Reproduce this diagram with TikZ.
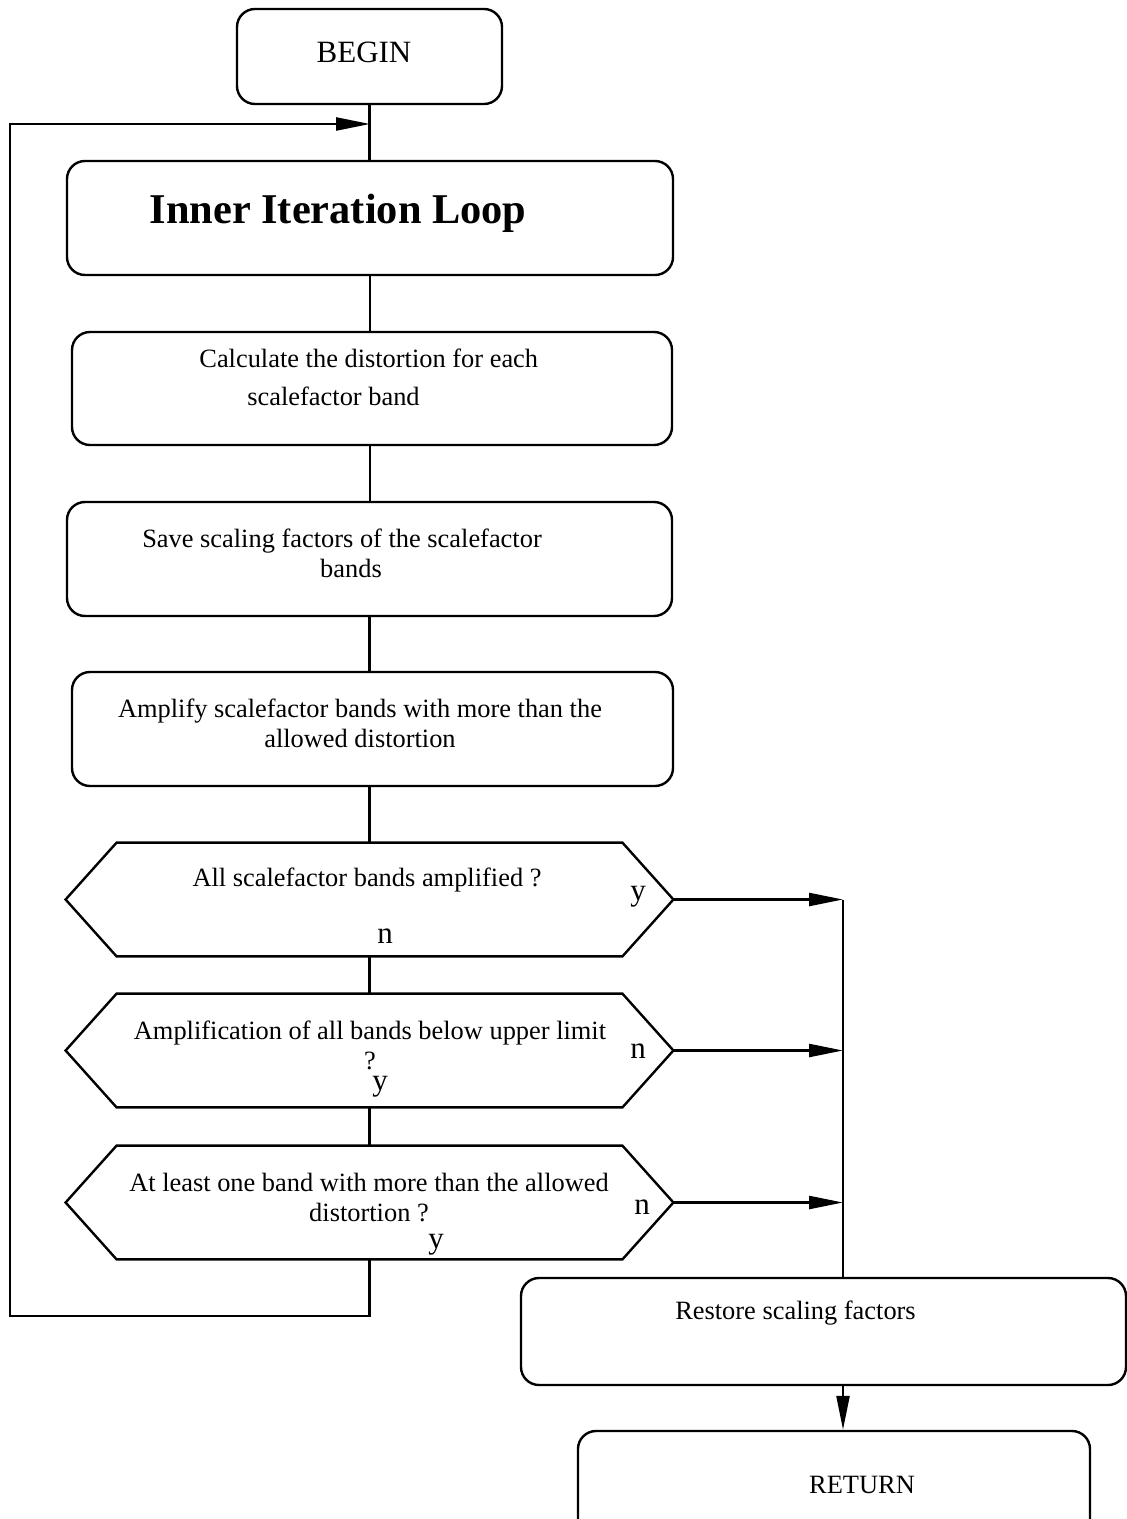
\documentclass[tikz,border=0pt]{standalone}
\usepackage{fontspec}
\setmainfont{Liberation Serif}
\usetikzlibrary{arrows.meta}

\tikzset{
  procbox/.style={draw, line width=1.2pt, rounded corners=9pt, inner sep=0pt},
  hexframe/.style={inner sep=0pt},
  hexline/.style={line width=1.2pt, line join=miter},
  txt/.style={font=\fontsize{13.2}{15}\selectfont, inner sep=0pt, align=center},
  yn/.style={font=\fontsize{15.5}{17}\selectfont, inner sep=0pt},
  flow/.style={line width=1.1pt},
  flowarr/.style={line width=1.2pt, -{Triangle[length=17pt,width=6.5pt]}}
}

\begin{document}
\begin{tikzpicture}[x=0.5pt,y=-0.5pt]
		\useasboundingbox (0,0) rectangle (1127,1519);

		%boxes
		\node[procbox, minimum width=132.5pt, minimum height=47.5pt] (begin) at (369.5,56.5) {};
		\node[procbox, minimum width=303pt, minimum height=57pt] (inner) at (370,218) {};
		\node[procbox, minimum width=300pt, minimum height=56.5pt] (calc) at (372,388.5) {};
		\node[procbox, minimum width=302.5pt, minimum height=57pt] (save) at (369.5,559) {};
		\node[procbox, minimum width=300.5pt, minimum height=57pt] (amp) at (372.5,729) {};
		\node[procbox, minimum width=302.5pt, minimum height=53.5pt] (restore) at (823.5,1331.5) {};
		\node[procbox, minimum width=256pt, minimum height=57pt] (return) at (834,1488) {};

		%decisions
		\node[hexframe, minimum width=303.5pt, minimum height=56.5pt] (hexa) at (369.5,899.5) {};
		\node[hexframe, minimum width=303.5pt, minimum height=56.5pt] (hexb) at (369.5,1050.5) {};
		\node[hexframe, minimum width=303.5pt, minimum height=56.5pt] (hexc) at (369.5,1202.5) {};
		\draw[hexline] (hexa.west) -- ([xshift=25.5pt]hexa.north west) -- ([xshift=-25.5pt]hexa.north east) -- (hexa.east)
			-- ([xshift=-25.5pt]hexa.south east) -- ([xshift=25.5pt]hexa.south west) -- cycle;
		\draw[hexline] (hexb.west) -- ([xshift=25.5pt]hexb.north west) -- ([xshift=-25.5pt]hexb.north east) -- (hexb.east)
			-- ([xshift=-25.5pt]hexb.south east) -- ([xshift=25.5pt]hexb.south west) -- cycle;
		\draw[hexline] (hexc.west) -- ([xshift=25.5pt]hexc.north west) -- ([xshift=-25.5pt]hexc.north east) -- (hexc.east)
			-- ([xshift=-25.5pt]hexc.south east) -- ([xshift=25.5pt]hexc.south west) -- cycle;

		%texts
		\node[txt, font=\fontsize{15.5}{17}\selectfont] (begintxt) at (364,52) {BEGIN};
		\node[txt, font=\fontsize{21.2}{24}\selectfont\bfseries] (innertxt) at (338,213) {Inner Iteration Loop};
		\node[txt, align=left, anchor=west, font=\fontsize{13.2}{19}\selectfont] (calctxt) at (199,377) {Calculate the distortion for each\\\hspace*{24pt}scalefactor band};
		\node[txt] (savetxt) at (342,553) {Save scaling factors of the scalefactor\\\hspace*{9pt}bands};
		\node[txt] (amptxt) at (360,723) {Amplify scalefactor bands with more than the\\allowed distortion};
		\node[txt] (hexatxt) at (367,880) {All scalefactor bands amplified ?};
		\node[txt] (hexbtxt) at (370,1045) {Amplification of all bands below upper limit\\?};
		\node[txt] (hexctxt) at (369,1197.5) {At least one band with more than the allowed\\distortion ?};
		\node[txt] (restoretxt) at (795.5,1313) {Restore scaling factors};
		\node[txt] (returntxt) at (862,1485) {RETURN};

		%answers
		\node[yn] (ya) at (638,897) {y};
		\node[yn] (na) at (385,936) {n};
		\node[yn] (nb) at (638,1051) {n};
		\node[yn] (yb) at (380,1087) {y};
		\node[yn] (nc) at (642,1207) {n};
		\node[yn] (yc) at (436,1245) {y};

		%connectors
		\coordinate (loopin) at (370,124);
		\coordinate (loopbl) at (10,1316);
		\coordinate (rail) at (843,899.5);
		\draw[flow] (begin) -- (begin |- inner.north);
		\draw[flow] (inner) -- (inner |- calc.north);
		\draw[flow] (calc.south -| inner) -- (inner |- save.north);
		\draw[flow] (save) -- (save |- amp.north);
		\draw[flow] (amp.south -| save) -- (save |- hexa.north);
		\draw[flow] (hexa) -- (hexa |- hexb.north);
		\draw[flow] (hexb) -- (hexb |- hexc.north);
		\draw[flowarr] (hexc.south) |- (loopbl) |- (loopin);
		\draw[flowarr] (hexa.east) -- (hexa.east -| rail);
		\draw[flowarr] (hexb.east) -- (hexb.east -| rail);
		\draw[flowarr] (hexc.east) -- (hexc.east -| rail);
		\draw[flow] (rail) -- (rail |- restore.north);
		\draw[flowarr] (rail |- restore.south) -- (rail |- return.north);
\end{tikzpicture}
\end{document}
